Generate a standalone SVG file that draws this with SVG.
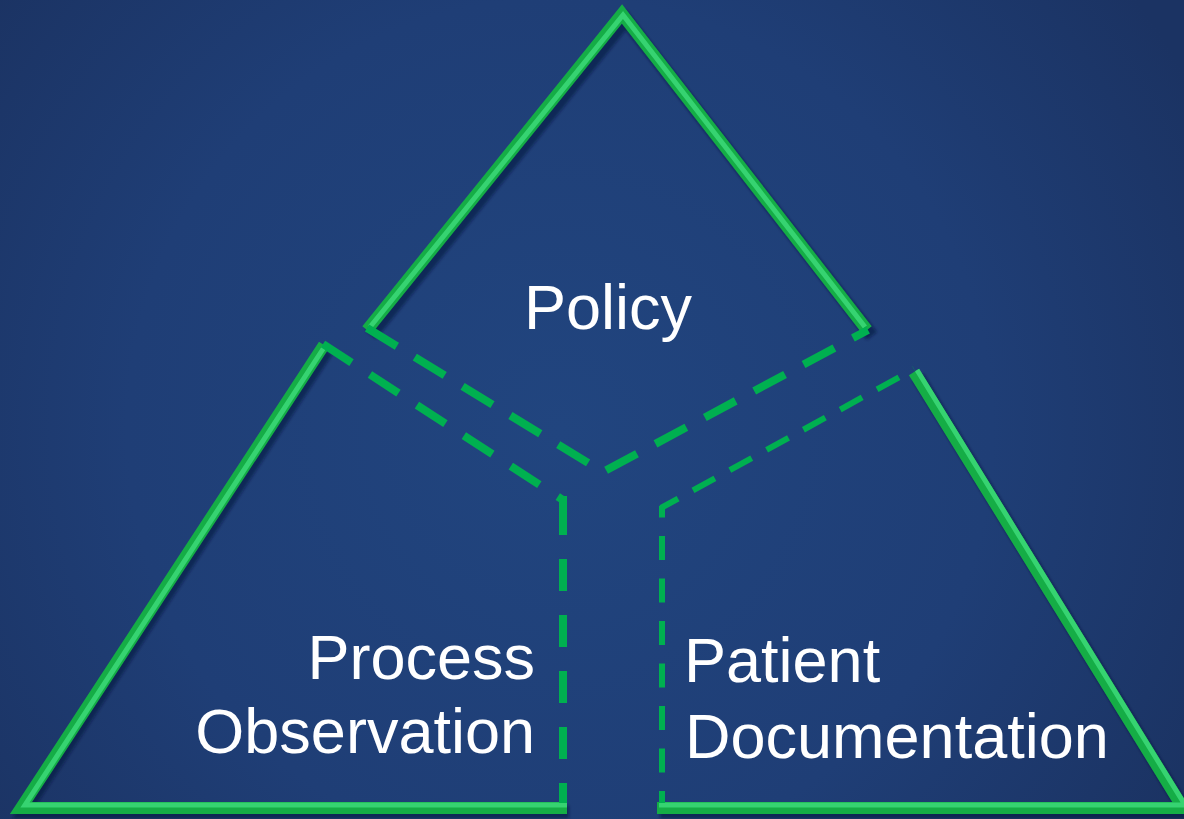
<svg xmlns="http://www.w3.org/2000/svg" width="1184" height="819" viewBox="0 0 1184 819">
<defs>
<radialGradient id="bg" cx="560" cy="430" r="720" gradientUnits="userSpaceOnUse">
<stop offset="0" stop-color="#21457f"/>
<stop offset="0.6" stop-color="#1f3e76"/>
<stop offset="1" stop-color="#1b3363"/>
</radialGradient>
<filter id="sh" x="-10%" y="-10%" width="120%" height="120%">
<feGaussianBlur stdDeviation="1.5"/>
</filter>
</defs>
<style>
.shadow{fill:none;stroke:#0b1a38;stroke-opacity:0.55;stroke-width:13;stroke-linejoin:miter;filter:url(#sh)}
.tube{fill:none;stroke:#15ad46;stroke-width:12;stroke-linejoin:miter;stroke-linecap:butt}
.hl{fill:none;stroke:#3fdc7c;stroke-width:5;stroke-opacity:0.8;stroke-linejoin:miter}
.dash8{fill:none;stroke:#00b050;stroke-width:8}
.dash6{fill:none;stroke:#00b050;stroke-width:6}
.label{font-family:"Liberation Sans",Arial,sans-serif;font-size:63px;fill:#ffffff}
</style>
<rect x="0" y="0" width="1184" height="819" fill="url(#bg)"/>

<g id="policy">
<path class="shadow" d="M369,332 L624,17 L870,333" transform="translate(2,3)"/>
<path class="tube" d="M367,330 L622,14 L867,330"/>
<path class="hl" d="M369,328 L622,16 L864,328" transform="translate(1,-1)"/>
<path class="dash8" d="M367,328 L603,472 L868,330" stroke-dasharray="35 21"/>
<text class="label" x="608" y="329" text-anchor="middle">Policy</text>
</g>

<g id="process-observation">
<path class="shadow" d="M325,348 L22,809 L567,809" transform="translate(2,3)"/>
<path class="tube" d="M324,345 L21,808 L567,808"/>
<path class="hl" d="M324,347 L24,806 L566,806" transform="translate(1,-1)"/>
<path class="dash8" d="M323,344 L563,500" stroke-dasharray="34 22"/>
<path class="dash8" d="M563,496 L563,803" stroke-dasharray="39 24 32 24 32 24 32 24 32 24 32 24"/>
<text class="label" x="535" y="679" text-anchor="end">Process</text>
<text class="label" x="535" y="753" text-anchor="end">Observation</text>
</g>

<g id="patient-documentation">
<path class="shadow" d="M916,374 L1182,806 M658,809 L1190,809" transform="translate(2,3)"/>
<path class="tube" d="M914,372 L1183,808 M657,808 L1190,808"/>
<path class="hl" d="M916,371 L1184,806 M658,806 L1190,806" transform="translate(1,-1)"/>
<path class="dash6" d="M661,508 L914,369" stroke-dasharray="25 17" stroke-dashoffset="5.5"/>
<path class="dash6" d="M662,506 L662,803" stroke-dasharray="24 18.5" stroke-dashoffset="12.5"/>
<text class="label" x="684" y="682">Patient</text>
<text class="label" x="685" y="758">Documentation</text>
</g>
</svg>
